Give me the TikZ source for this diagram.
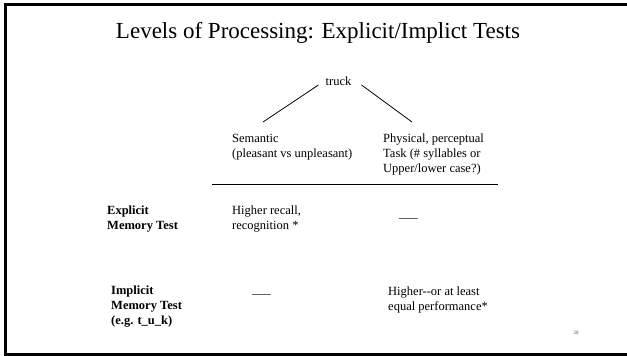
\documentclass[tikz,border=0pt]{standalone}
\usepackage{fontspec}
\setmainfont[Ligatures=NoCommon]{Liberation Serif}
\begin{document}
\begin{tikzpicture}[x=1pt,y=-1pt,
  txt/.style={anchor=base west, inner sep=0pt, font=\fontsize{12.5}{15}\selectfont},
  lbl/.style={anchor=base west, inner sep=0pt, font=\fontsize{12.5}{15}\selectfont\bfseries},
  conn/.style={line width=0.8pt, black}]
\useasboundingbox (0,0) rectangle (627,356);
\begin{scope}
  \clip (0,0) rectangle (627,356);
  \draw[line width=3pt] (5,4.7) rectangle (640,354.5);
\end{scope}

% title
\node[anchor=base, inner sep=0pt, font=\fontsize{23}{27}\selectfont] (title) at (318,38)
  {Levels of Processing: Explicit/Implict Tests};

% tree
\node[anchor=base, inner sep=0pt, font=\fontsize{12.5}{15}\selectfont] (truck) at (338.5,85) {truck};
\coordinate (lend) at (263,122);
\coordinate (rend) at (412,122);
\draw[conn] ([xshift=-7pt]truck.base west) -- (lend);
\draw[conn] ([xshift=10pt]truck.base east) -- (rend);

% column heads
\node[txt] (sem) at (232,142) {\parbox[t]{160pt}{\raggedright Semantic\\(pleasant vs unpleasant)}};
\node[txt] (phys) at (383,142) {\parbox[t]{160pt}{\raggedright Physical, perceptual\\Task (\# syllables or\\Upper/lower case?)}};

% rule
\coordinate (rl) at (212,184);
\coordinate (rr) at (498,184);
\draw[conn] (rl) -- (rr);

% rows
\node[lbl] (expl) at (107,214) {\parbox[t]{100pt}{\raggedright Explicit\\Memory Test}};
\node[txt] (explsem) at (232,214) {\parbox[t]{120pt}{\raggedright Higher recall,\\recognition *}};
\node[txt] (explphys) at (399,217.5) {\_\_\_};

\node[lbl] (impl) at (111,294) {\parbox[t]{100pt}{\raggedright Implicit\\Memory Test\\(e.g. t\_u\_k)}};
\node[txt] (implsem) at (252,293.5) {\_\_\_};
\node[txt] (implphys) at (388,295) {\parbox[t]{160pt}{\raggedright Higher-{}-or at least\\equal performance*}};

% page number
\node[anchor=base, inner sep=0pt, font=\fontsize{5}{6}\selectfont, text=black!70] (pg) at (576,334) {28};
\end{tikzpicture}
\end{document}
